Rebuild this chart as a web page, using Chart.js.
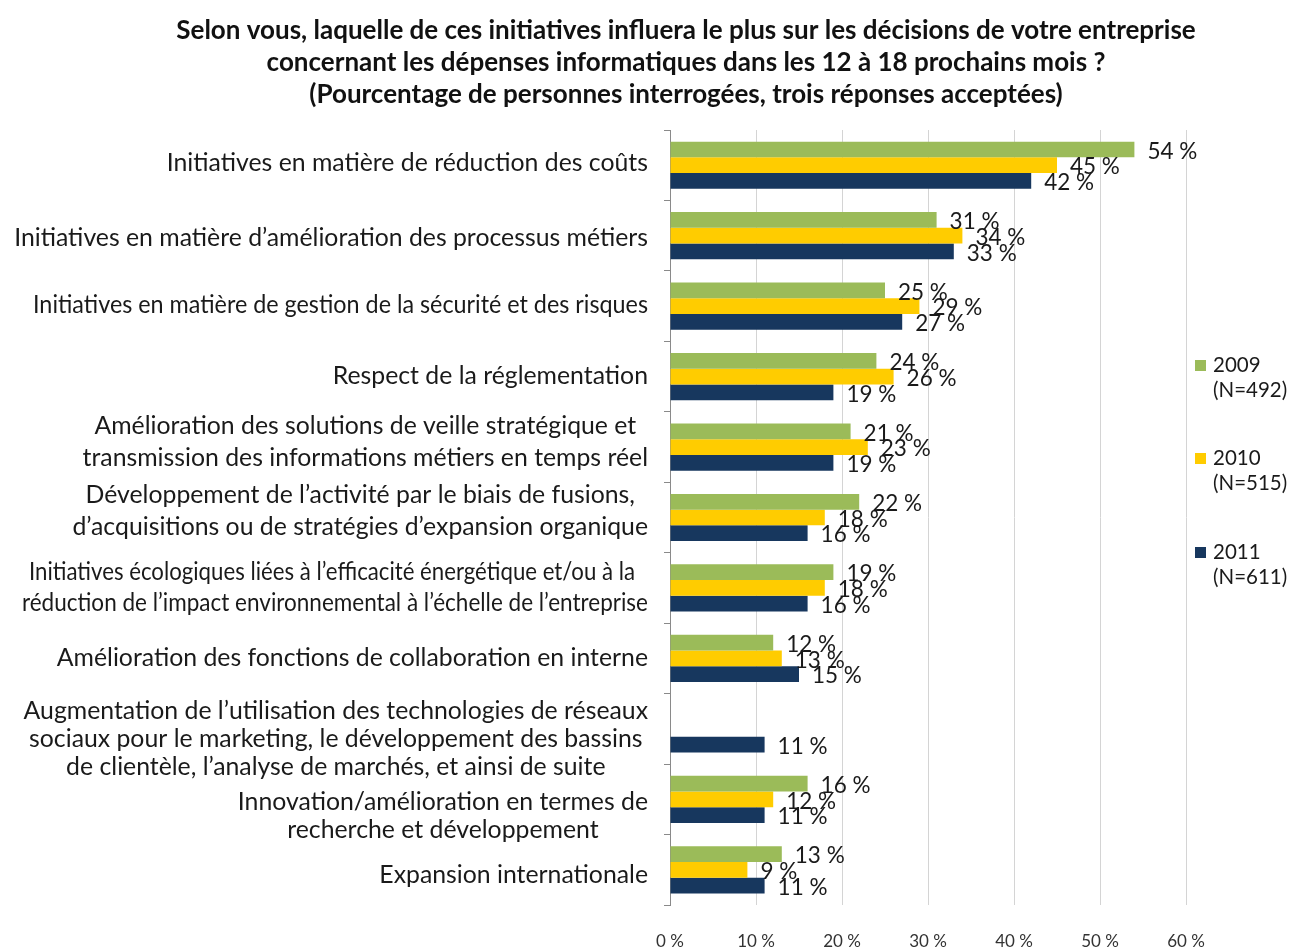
<!DOCTYPE html>
<html><head><meta charset="utf-8">
<script src="https://cdn.jsdelivr.net/npm/chart.js@4"></script>
<style>html,body{margin:0;padding:0;background:#fff}#wrap{width:1290px;height:948px}</style>
</head><body><div id="wrap"><canvas id="c" width="1290" height="948"></canvas></div>
<script>
const titleLines = [
  "Selon vous, laquelle de ces initiatives influera le plus sur les décisions de votre entreprise",
  "concernant les dépenses informatiques dans les 12 à 18 prochains mois ?",
  "(Pourcentage de personnes interrogées, trois réponses acceptées)"
];
const categories = [
  ["Initiatives en matière de réduction des coûts"],
  ["Initiatives en matière d’amélioration des processus métiers"],
  ["Initiatives en matière de gestion de la sécurité et des risques"],
  ["Respect de la réglementation"],
  ["Amélioration des solutions de veille stratégique et", "transmission des informations métiers en temps réel"],
  ["Développement de l’activité par le biais de fusions,", "d’acquisitions ou de stratégies d’expansion organique"],
  ["Initiatives écologiques liées à l’efficacité énergétique et/ou à la", "réduction de l’impact environnemental à l’échelle de l’entreprise"],
  ["Amélioration des fonctions de collaboration en interne"],
  ["Augmentation de l’utilisation des technologies de réseaux", "sociaux pour le marketing, le développement des bassins", "de clientèle, l’analyse de marchés, et ainsi de suite"],
  ["Innovation/amélioration en termes de", "recherche et développement"],
  ["Expansion internationale"]
];
const seriesNames = ["2009", "2010", "2011"];
const seriesN = ["(N=492)", "(N=515)", "(N=611)"];
const values2009 = [54, 31, 25, 24, 21, 22, 19, 12, null, 16, 13];
const values2010 = [45, 34, 29, 26, 23, 18, 18, 13, null, 12, 9];
const values2011 = [42, 33, 27, 19, 19, 16, 16, 15, 11, 11, 11];
const xTicks = [0, 10, 20, 30, 40, 50, 60];

const FONT = "Lato, 'Open Sans', sans-serif";
// label block layout tweaks per category row: vertical shift, line gap, max line widths
const labelShift = [-2, 2, -1, -1, -5, -6, 0, 0, 10, 17, 5];
const labelGap   = [0, 0, 0, 0, 32, 32, 31, 0, 28, 28, 0];
const labelMaxW  = [null, [640], [615], null, null, null, [606, 626], null, null, null, null];

const customDraw = {
  id: 'customDraw',
  afterDraw(chart) {
    const ctx = chart.ctx;
    const ys = chart.scales.y;
    ctx.save();
    // title
    ctx.fillStyle = '#111';
    ctx.font = 'bold 26px ' + FONT;
    ctx.textAlign = 'center';
    ctx.textBaseline = 'middle';
    titleLines.forEach((t, i) => ctx.fillText(t, 686, 31 + i * 32));
    // category labels
    ctx.fillStyle = '#1a1a1a';
    ctx.font = '24.8px ' + FONT;
    const rightEdge = 648;
    categories.forEach((lines, i) => {
      const cy = ys.getPixelForTick(i) + labelShift[i];
      const caps = labelMaxW[i];
      const widths = lines.map((l, j) => {
        const w = ctx.measureText(l).width;
        return caps && caps[j] ? Math.min(w, caps[j]) : w;
      });
      const maxW = Math.max(...widths);
      const cx = rightEdge - maxW / 2;
      const lh = labelGap[i];
      const startY = cy - (lines.length - 1) * lh / 2;
      lines.forEach((l, j) => {
        const dx = (i === 6 && j === 0) ? -3 : 0;
        if (caps && caps[j]) ctx.fillText(l, cx + dx, startY + j * lh, caps[j]);
        else ctx.fillText(l, cx + dx, startY + j * lh);
      });
    });
    // data labels
    ctx.font = '22.5px ' + FONT;
    ctx.textAlign = 'left';
    chart.data.datasets.forEach((ds, di) => {
      const meta = chart.getDatasetMeta(di);
      meta.data.forEach((bar, i) => {
        const v = ds.data[i];
        if (v === null || v === undefined) return;
        ctx.fillText(v + ' %', bar.x + 13, bar.y + 2);
      });
    });
    // legend
    ctx.font = '20.5px ' + FONT;
    const legY = [365, 458, 552];
    chart.data.datasets.forEach((ds, di) => {
      ctx.fillStyle = ds.backgroundColor;
      ctx.fillRect(1195, legY[di] - 5, 11, 11);
      ctx.fillStyle = '#1a1a1a';
      ctx.fillText(seriesNames[di], 1213, legY[di]);
      ctx.fillText(seriesN[di], 1213, legY[di] + 25);
    });
    ctx.restore();
  }
};

new Chart(document.getElementById('c'), {
  type: 'bar',
  data: {
    labels: categories.map(c => c.join(' ')),
    datasets: [
      { label: seriesNames[0], data: values2009, backgroundColor: '#9BBB59' },
      { label: seriesNames[1], data: values2010, backgroundColor: '#FFCC00' },
      { label: seriesNames[2], data: values2011, backgroundColor: '#17375E' }
    ]
  },
  options: {
    indexAxis: 'y',
    responsive: false,
    animation: false,
    devicePixelRatio: 1,
    layout: { padding: { top: 130, right: 104, left: 0, bottom: 0 } },
    datasets: { bar: { categoryPercentage: 0.67, barPercentage: 1.0 } },
    plugins: { legend: { display: false }, title: { display: false }, tooltip: { enabled: false } },
    scales: {
      x: {
        min: 0, max: 60,
        afterBuildTicks: (s) => { s.ticks = xTicks.map(v => ({ value: v })); },
        afterFit: (s) => { s.height = 43; },
        grid: { color: '#d4d4d4', lineWidth: 1, drawTicks: false },
        border: { display: false },
        ticks: {
          padding: 26,
          color: '#333',
          font: { family: FONT, size: 17 },
          callback: (v) => v + ' %'
        }
      },
      y: {
        afterFit: (s) => { s.width = 670; },
        grid: { drawOnChartArea: false, color: '#8a8a8a', tickLength: 6, offset: true },
        border: { display: true, color: '#8a8a8a', width: 1 },
        ticks: { display: false }
      }
    }
  },
  plugins: [customDraw]
});
</script></body></html>
